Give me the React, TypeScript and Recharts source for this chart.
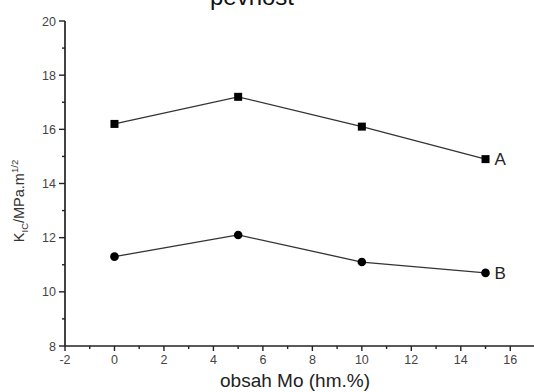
import React from "react";
import { LineChart, Line, XAxis, YAxis, LabelList } from "recharts";

const molybdenum = [0, 5, 10, 15];
const seriesA = [16.2, 17.2, 16.1, 14.9];
const seriesB = [11.3, 12.1, 11.1, 10.7];
const xTicks = [-2, -1, 0, 1, 2, 3, 4, 5, 6, 7, 8, 9, 10, 11, 12, 13, 14, 15, 16, 17];
const yTicks = [8, 9, 10, 11, 12, 13, 14, 15, 16, 17, 18, 19, 20];

const data = molybdenum.map((x, i) => ({ x, a: seriesA[i], b: seriesB[i] }));

const FONT = "Liberation Sans, Arial, sans-serif";

const XTick = (props: any) => {
  const { x, y, payload } = props;
  const major = payload.value % 2 === 0;
  return (
    <g>
      <line x1={x} x2={x} y1={y} y2={y + (major ? 5 : 3)} stroke="#222" strokeWidth={1.4} />
      {major && payload.value < 17 && (
        <text x={x} y={y + 18} textAnchor="middle" fontSize={12.5} fill="#444" fontFamily={FONT}>
          {payload.value}
        </text>
      )}
    </g>
  );
};

const YTick = (props: any) => {
  const { x, y, payload } = props;
  const major = payload.value % 2 === 0;
  return (
    <g>
      <line x1={x} x2={x - (major ? 6 : 3)} y1={y} y2={y} stroke="#222" strokeWidth={1.4} />
      {major && (
        <text x={x - 9} y={y + 4.5} textAnchor="end" fontSize={12.5} fill="#444" fontFamily={FONT}>
          {payload.value}
        </text>
      )}
    </g>
  );
};

const SquareDot = (props: any) => {
  const { cx, cy } = props;
  return <rect x={cx - 4} y={cy - 4} width={8} height={8} fill="#000" />;
};

const CircleDot = (props: any) => {
  const { cx, cy } = props;
  return <circle cx={cx} cy={cy} r={4.3} fill="#000" />;
};

const endLabel = (name: string) => (props: any) => {
  const { x, y, index } = props;
  if (index !== molybdenum.length - 1) return null;
  return (
    <text x={x + 9} y={y + 6} fontSize={17} fill="#222" fontFamily={FONT}>
      {name}
    </text>
  );
};

export default function App() {
  return (
    <div style={{ position: "absolute", left: 0, top: 0, width: 534, height: 392, overflow: "hidden", background: "#fff" }}>
      <LineChart width={535} height={392} data={data} margin={{ top: 21, right: 0, left: 0, bottom: 0 }}>
        <XAxis
          dataKey="x"
          type="number"
          domain={[-2, 17]}
          ticks={xTicks}
          interval={0}
          height={46}
          tickSize={0}
          tickMargin={0}
          tickLine={false}
          tick={<XTick />}
          axisLine={{ stroke: "#222", strokeWidth: 1.7 }}
        />
        <YAxis
          type="number"
          domain={[8, 20]}
          ticks={yTicks}
          interval={0}
          width={65}
          tickSize={0}
          tickMargin={0}
          tickLine={false}
          tick={<YTick />}
          axisLine={{ stroke: "#222", strokeWidth: 1.7 }}
        />
        <Line dataKey="a" stroke="#333" strokeWidth={1.3} dot={<SquareDot />} isAnimationActive={false}>
          <LabelList dataKey="a" content={endLabel("A")} />
        </Line>
        <Line dataKey="b" stroke="#333" strokeWidth={1.3} dot={<CircleDot />} isAnimationActive={false}>
          <LabelList dataKey="b" content={endLabel("B")} />
        </Line>
      </LineChart>
      <div style={{ position: "absolute", left: 252, top: -17, width: 0, height: 0 }}>
        <div style={{ position: "absolute", transform: "translateX(-50%)", whiteSpace: "nowrap", fontFamily: FONT, fontSize: 24, color: "#111", lineHeight: "28px" }}>
          pevnost
        </div>
      </div>
      <div style={{ position: "absolute", left: 295, top: 370, width: 0, height: 0 }}>
        <div style={{ position: "absolute", transform: "translateX(-50%)", whiteSpace: "nowrap", fontFamily: FONT, fontSize: 19, color: "#222", lineHeight: "22px" }}>
          obsah Mo (hm.%)
        </div>
      </div>
      <div style={{ position: "absolute", left: 20, top: 201, width: 0, height: 0 }}>
        <div style={{ position: "absolute", transform: "translate(-50%, -50%) rotate(-90deg)", whiteSpace: "nowrap", fontFamily: FONT, fontSize: 14.5, color: "#333", lineHeight: "16px" }}>
          K<sub style={{ fontSize: 9.5 }}>IC</sub>/MPa.m<sup style={{ fontSize: 9.5 }}>1/2</sup>
        </div>
      </div>
    </div>
  );
}
